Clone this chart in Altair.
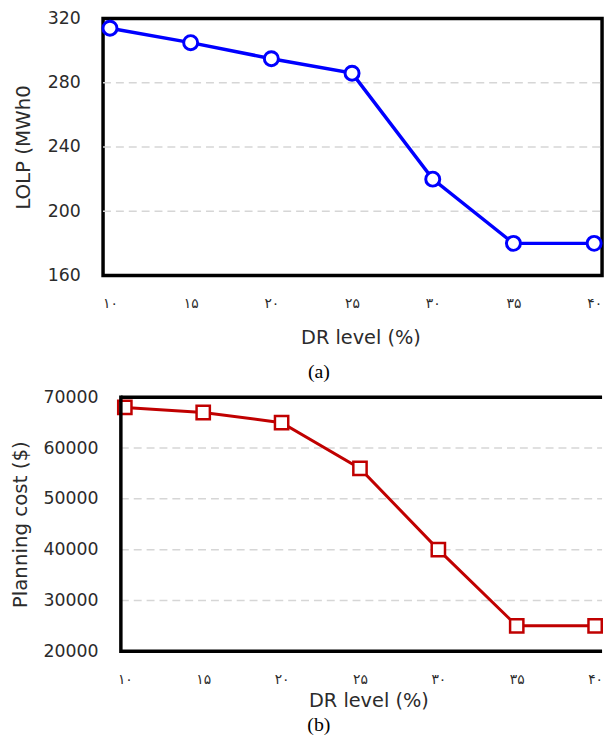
import altair as alt
import pandas as pd

dr_levels = [10, 15, 20, 25, 30, 35, 40]
dr_labels = ["۱۰", "۱۵", "۲۰", "۲۵", "۳۰", "۳۵", "۴۰"]
lolp = [314, 305, 295, 286, 220, 180, 180]
planning_cost = [68000, 67000, 65000, 56000, 40000, 25000, 25000]
lolp_ticks = [160, 200, 240, 280, 320]
cost_ticks = [20000, 30000, 40000, 50000, 60000, 70000]

df_a = pd.DataFrame({"dr": dr_levels, "lolp": lolp})
df_b = pd.DataFrame({"dr": dr_levels, "cost": planning_cost})
grid_a = pd.DataFrame({"g": lolp_ticks[1:-1]})
grid_b = pd.DataFrame({"g": cost_ticks[1:-1]})
one = pd.DataFrame({"k": [0]})

label_expr = " : ".join(
    f"datum.value == {v} ? '{l}'" for v, l in zip(dr_levels, dr_labels)
) + " : ''"

FONT = "DejaVu Sans"
TXT = "#2b2b2b"
GRID = dict(strokeDash=[8, 5], color="#d6d6d6", strokeWidth=1.5)

# x scales (panel a: frame = plot area; panel b: frame starts inside plot area)
XA = [9.571, 40.491]
XB = [8.6105, 40.443]
XB_FRAME = 9.7474


def x_axis(label_pad, title_pad, title_x):
    return alt.Axis(
        values=dr_levels, labelExpr=label_expr, ticks=False, tickSize=0,
        domain=False, grid=False, labelFont=FONT, labelFontSize=14,
        labelPadding=label_pad, labelColor=TXT, title="DR level (%)",
        titleFont=FONT, titleFontSize=19.5, titleFontWeight="normal",
        titlePadding=title_pad, titleColor=TXT, titleX=title_x,
    )


def y_axis(values, title, title_x, label_pad):
    return alt.Axis(
        values=values, format="d", ticks=False, tickSize=0, domain=False,
        grid=False, labelFont=FONT, labelFontSize=17.5, labelPadding=label_pad,
        labelColor=TXT, title=title, titleFont=FONT, titleFontSize=20,
        titleFontWeight="normal", titleColor=TXT, titleX=title_x,
        titleBaseline="middle",
    )


def caption(text, offset):
    return alt.TitleParams(text=text, orient="bottom", anchor="middle",
                           frame="group", font="Liberation Serif", fontSize=20,
                           fontWeight="normal", color="black", dx=-34,
                           offset=offset)


# ---------- panel (a) ----------
xa = alt.X("dr:Q", scale=alt.Scale(domain=XA, nice=False, zero=False),
           axis=x_axis(21, 19, 260))
ya = alt.Y("lolp:Q", scale=alt.Scale(domain=[160, 320], nice=False, zero=False),
           axis=y_axis(lolp_ticks, "LOLP (MWh0", -80, 23))
base_a = alt.Chart(df_a).encode(x=xa, y=ya)
grid_rules_a = alt.Chart(grid_a).mark_rule(**GRID).encode(
    y=alt.Y("g:Q"), x=alt.datum(XA[0]), x2=alt.datum(XA[1])
)
top = alt.layer(
    grid_rules_a,
    base_a.mark_line(color="#0000ff", strokeWidth=3.5),
    base_a.mark_point(shape="circle", filled=True, fill="white", stroke="#0000ff",
                      strokeWidth=3, size=200, opacity=1),
).properties(
    width=504, height=259.5,
    view=alt.ViewBackground(stroke="black", strokeWidth=3.5),
    title=caption("(a)", 15),
)

# ---------- panel (b) ----------
xb = alt.X("dr:Q", scale=alt.Scale(domain=XB, nice=False, zero=False),
           axis=x_axis(22, 4.5, 268))
yb = alt.Y("cost:Q", scale=alt.Scale(domain=[20000, 70000], nice=False, zero=False),
           axis=y_axis(cost_ticks, "Planning cost ($)", -83, 5))
base_b = alt.Chart(df_b).encode(x=xb, y=yb)
grid_rules_b = alt.Chart(grid_b).mark_rule(**GRID).encode(
    y=alt.Y("g:Q"), x=alt.datum(XB_FRAME), x2=alt.datum(XB[1])
)
FRAME = dict(color="black", strokeWidth=3.5)
frame_top = alt.Chart(one).mark_rule(strokeCap="butt", **FRAME).encode(
    x=alt.datum(XB_FRAME), x2=alt.datum(XB[1]), y=alt.datum(cost_ticks[-1]))
frame_bot = alt.Chart(one).mark_rule(strokeCap="butt", **FRAME).encode(
    x=alt.datum(XB_FRAME), x2=alt.datum(XB[1]), y=alt.datum(cost_ticks[0]))
frame_left = alt.Chart(one).mark_rule(strokeCap="square", **FRAME).encode(
    x=alt.datum(XB_FRAME), y=alt.datum(cost_ticks[0]), y2=alt.datum(cost_ticks[-1]))

bottom = alt.layer(
    grid_rules_b,
    base_b.mark_line(color="#c00000", strokeWidth=3),
    base_b.mark_point(shape="square", filled=True, fill="white", stroke="#c00000",
                      strokeWidth=2.5, size=180, opacity=1),
    frame_top, frame_bot, frame_left,
).properties(
    width=504, height=256.5,
    view=alt.ViewBackground(stroke="transparent", strokeWidth=0),
    title=caption("(b)", 6),
)

chart = alt.vconcat(top, bottom, spacing=4.5).properties(
    padding={"left": 2, "top": -4, "right": -1, "bottom": 0},
    background="white",
).configure_view(stroke="transparent")

chart.save("out.html", embed_options={"renderer": "svg", "actions": False})
